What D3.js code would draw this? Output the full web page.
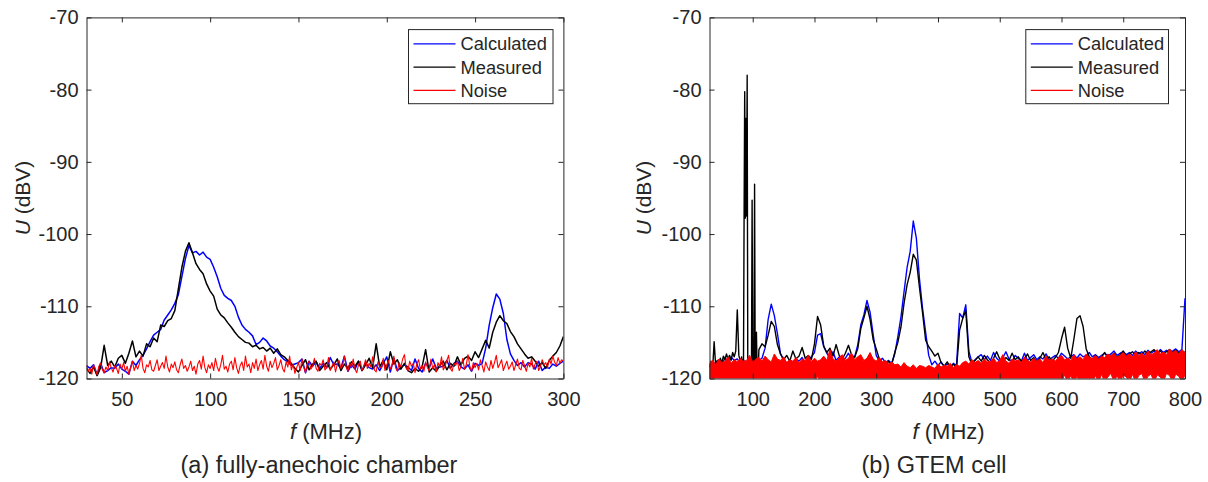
<!DOCTYPE html>
<html>
<head>
<meta charset="utf-8">
<script src="https://cdn.jsdelivr.net/npm/d3@7"></script>
<style>
  body { margin: 0; background: #fff; }
  svg text { font-family: "Liberation Sans", Arial, sans-serif; fill: #262626; }
</style>
</head>
<body>
<svg id="chart" width="1208" height="482"></svg>
<script>
// ---------- data (dBV) ----------
// (a) fully-anechoic chamber, noise every 1 MHz from 30 to 300
const anechoicNoiseFreq = d3.range(30, 301, 1);
const anechoicNoise = [
  -118.2,-119.0,-118.6,-119.4,-118.1,-118.7,-119.5,-118.3,-117.9,-118.8,
  -119.2,-118.4,-118.9,-117.7,-118.5,-119.1,-118.2,-118.6,-119.3,-118.0,
  -118.7,-117.8,-119.0,-118.3,-119.4,-118.5,-117.6,-118.9,-118.2,-118.7,
  -117.9,-116.8,-118.6,-119.2,-118.1,-118.4,-117.5,-118.8,-119.0,-118.2,
  -117.4,-118.9,-118.3,-117.8,-118.6,-116.9,-118.4,-119.1,-118.0,-118.5,
  -117.7,-118.8,-119.2,-118.1,-117.3,-118.6,-118.2,-119.0,-118.4,-117.6,
  -118.9,-118.3,-119.4,-118.0,-117.5,-118.7,-116.9,-118.5,-119.2,-118.1,
  -118.6,-117.8,-118.9,-117.2,-118.4,-119.0,-118.1,-116.8,-118.7,-118.3,
  -119.1,-118.0,-117.6,-118.8,-117.1,-118.5,-119.3,-118.2,-117.7,-118.9,
  -116.9,-118.4,-118.0,-119.2,-117.8,-118.6,-117.3,-118.9,-118.1,-117.5,
  -118.7,-116.8,-118.3,-119.0,-117.6,-118.5,-117.9,-117.1,-118.8,-118.2,
  -117.4,-118.6,-119.1,-117.7,-118.4,-116.9,-118.8,-118.0,-119.3,-118.5,
  -117.8,-118.9,-117.3,-118.4,-119.2,-118.0,-117.6,-118.7,-118.3,-117.2,
  -118.6,-119.0,-117.9,-118.2,-117.4,-118.8,-118.5,-117.1,-118.9,-118.3,
  -117.7,-119.1,-118.0,-117.5,-118.6,-118.2,-116.9,-118.4,-119.0,-117.8,
  -118.5,-117.3,-118.7,-119.2,-118.1,-117.6,-118.9,-118.3,-117.4,-118.6,
  -117.9,-118.4,-117.0,-118.8,-119.1,-117.7,-118.3,-118.6,-117.2,-118.9,
  -118.1,-117.5,-118.7,-118.2,-116.9,-118.5,-119.0,-117.8,-118.4,-117.3,
  -116.7,-118.6,-118.9,-117.6,-118.3,-117.9,-119.2,-118.0,-117.4,-118.7,
  -118.2,-119.0,-117.7,-118.5,-118.9,-117.3,-118.6,-118.1,-119.1,-117.8,
  -118.4,-117.0,-118.8,-118.3,-117.5,-116.8,-118.6,-119.0,-117.9,-118.2,
  -117.6,-118.9,-118.4,-117.2,-118.7,-118.1,-116.7,-118.3,-119.0,-117.8,
  -118.5,-117.9,-118.8,-117.4,-118.2,-119.1,-117.7,-118.4,-118.9,-117.5,
  -118.6,-117.8,-116.8,-118.5,-118.0,-117.4,-118.9,-118.2,-117.6,-118.7,
  -118.3,-117.7,-118.9,-118.1,-117.3,-118.6,-118.8,-117.5,-118.2,-119.0,
  -117.9,-118.4,-117.2,-118.7,-118.0,-117.6,-118.9,-118.3,-117.4,-118.1,
  -117.8,-118.5,-117.3,-118.0,-116.9,-117.7,-118.2,-117.1,-117.9,-117.4,
  -117.6
];

// calculated and measured every 2 MHz from 30 to 300
const anechoicFreq = d3.range(30, 301, 2);
const anechoicCalc = [
  -118.2,-118.6,-118.1,-119.5,-117.9,-119.2,-118.9,-118.5,-118.6,-118.0,
  -118.7,-119.0,-119.4,-117.6,-118.2,-117.4,-116.8,-115.9,-114.9,-114.0,
  -113.6,-113.2,-111.9,-111.2,-110.5,-109.6,-108.4,-105.9,-103.4,-101.6,
  -102.6,-102.4,-102.9,-102.5,-103.2,-103.5,-104.6,-105.9,-107.5,-108.5,
  -108.9,-109.2,-110.0,-111.5,-112.6,-113.2,-113.6,-114.1,-115.3,-115.0,
  -114.4,-114.8,-115.5,-115.8,-116.3,-116.9,-117.4,-117.7,-118.2,-118.0,
  -117.8,-117.3,-119.2,-117.6,-118.3,-117.7,-118.6,-117.9,-118.5,-117.1,
  -118.1,-118.0,-118.6,-116.9,-119.0,-118.1,-118.7,-117.6,-118.9,-117.8,
  -118.5,-118.7,-118.1,-118.9,-117.9,-117.0,-119.1,-117.2,-118.9,-118.5,
  -118.1,-118.4,-118.9,-117.3,-118.6,-119.1,-117.9,-118.5,-117.3,-118.6,
  -118.4,-118.3,-117.5,-118.6,-117.9,-117.6,-118.4,-118.7,-118.1,-119.0,
  -117.9,-118.2,-117.9,-115.8,-112.6,-110.2,-108.3,-109.0,-111.0,-114.6,
  -116.6,-117.5,-118.2,-117.8,-118.4,-117.8,-118.0,-118.7,-117.6,-118.9,
  -118.4,-118.6,-118.0,-118.3,-117.9,-117.6
];
const anechoicMeas = [
  -118.6,-119.3,-118.4,-119.6,-118.5,-115.4,-118.2,-117.6,-118.4,-117.2,
  -116.8,-117.9,-116.5,-114.8,-117.0,-116.2,-116.9,-115.2,-115.6,-114.4,
  -114.9,-112.6,-112.8,-112.0,-111.7,-110.6,-107.6,-104.6,-102.4,-101.2,
  -102.6,-104.1,-104.9,-105.5,-106.9,-107.9,-108.6,-110.4,-111.2,-111.6,
  -112.3,-112.9,-113.6,-114.2,-114.6,-115.0,-115.1,-115.6,-115.4,-115.9,
  -115.7,-116.2,-115.8,-116.5,-115.9,-116.7,-117.0,-117.5,-117.9,-118.6,
  -119.1,-118.2,-117.4,-118.8,-118.0,-117.6,-118.9,-118.3,-117.8,-118.7,
  -118.1,-117.3,-118.9,-118.0,-118.6,-117.7,-118.3,-117.6,-118.9,-118.1,
  -117.2,-118.5,-115.2,-118.4,-117.5,-118.8,-116.3,-118.0,-117.4,-118.7,
  -117.9,-118.9,-119.2,-118.6,-119.0,-118.4,-116.0,-119.1,-118.5,-119.0,
  -118.2,-117.6,-118.8,-117.9,-118.3,-117.0,-118.1,-117.2,-116.9,-117.5,
  -116.3,-117.1,-115.9,-114.7,-115.8,-113.6,-112.2,-111.3,-112.0,-112.4,
  -113.5,-114.2,-115.2,-115.9,-116.6,-117.2,-117.0,-117.6,-118.3,-117.8,
  -118.6,-117.5,-116.9,-116.4,-115.5,-114.2
];

// (b) GTEM cell
// calculated every 5 MHz from 30 to 800
const gtemCalcFreq = d3.range(30, 801, 5);
const gtemCalc = [
  -118.6,-118.0,-117.8,-117.4,-117.9,-117.2,-117.6,-117.0,-117.5,-117.3,
  -117.9,-117.4,-118.2,-117.6,-118.0,-117.8,-117.5,-117.2,-115.8,-111.8,
  -109.7,-111.3,-113.8,-116.6,-117.4,-117.9,-117.5,-118.0,-117.3,-117.6,
  -117.1,-117.8,-117.4,-117.0,-116.4,-114.0,-113.8,-115.6,-116.5,-117.2,
  -116.3,-117.5,-117.0,-117.6,-117.2,-116.5,-117.4,-117.0,-115.4,-112.6,
  -111.2,-109.2,-110.8,-113.9,-116.8,-117.6,-117.2,-117.8,-117.5,-117.9,
  -116.6,-114.2,-111.5,-108.0,-104.6,-102.4,-98.2,-100.6,-106.2,-110.3,
  -113.6,-116.8,-118.1,-117.6,-118.2,-117.7,-118.3,-118.0,-118.4,-117.9,
  -118.2,-111.0,-111.6,-109.8,-116.2,-117.8,-117.4,-117.0,-116.7,-117.4,
  -116.9,-117.5,-116.4,-117.2,-117.6,-117.1,-116.3,-117.3,-117.7,-116.8,
  -117.2,-117.6,-116.5,-117.5,-117.1,-116.7,-117.4,-117.0,-117.3,-116.6,
  -117.4,-117.1,-116.8,-117.2,-116.5,-116.9,-117.3,-117.0,-116.7,-117.2,
  -116.6,-117.0,-116.8,-116.4,-117.0,-116.7,-117.1,-116.8,-116.5,-116.9,
  -116.6,-116.2,-116.8,-116.5,-116.3,-116.7,-116.4,-116.8,-116.2,-116.6,
  -116.3,-116.7,-116.1,-116.5,-116.2,-116.6,-116.0,-116.4,-116.1,-116.5,
  -116.2,-115.9,-116.3,-116.0,-108.9
];

// measured: 2.5 MHz steps up to 80, 1 MHz steps through the strong lines, then 5 MHz
const gtemMeasFreq = d3.range(30, 80, 2.5).concat(d3.range(80, 110, 1), d3.range(110, 801, 5));
const gtemMeas = [
  -118.4,-117.6,-118.8,-114.9,-118.2,-117.5,-118.0,-117.2,-117.8,-116.9,
  -117.4,-116.6,-117.3,-116.8,-117.5,-116.4,-117.0,-116.2,-110.5,-116.8,
  -117.6,-118.3,-117.0,-118.6,-117.4,-118.9,-98.0,-80.3,-97.8,-84.0,
  -97.5,-78.0,-118.5,-119.2,-118.0,-119.4,-118.3,-119.0,-117.8,-95.3,
  -118.6,-119.2,-117.9,-93.1,-118.8,-116.5,-113.6,-118.4,-117.3,-118.6,
  -116.0,-115.2,-115.6,-114.0,-112.1,-112.8,-115.3,-116.6,-117.4,-116.8,
  -117.6,-116.2,-117.3,-116.9,-115.7,-117.2,-116.8,-117.4,-115.2,-111.4,
  -112.6,-115.5,-116.4,-115.8,-116.9,-115.3,-116.8,-117.3,-116.5,-115.4,
  -116.7,-117.1,-115.9,-113.1,-111.6,-110.0,-111.8,-114.6,-115.9,-117.3,
  -117.8,-118.4,-117.6,-118.1,-116.4,-115.0,-112.9,-109.6,-107.0,-105.3,
  -102.8,-103.6,-107.4,-110.9,-114.7,-115.6,-116.2,-116.9,-116.5,-117.8,
  -118.3,-117.7,-118.5,-118.0,-118.6,-113.3,-111.7,-110.6,-117.0,-118.1,
  -117.5,-117.0,-117.6,-116.8,-117.4,-117.9,-117.2,-116.3,-117.3,-117.7,
  -117.1,-117.5,-116.5,-117.4,-117.0,-117.6,-117.3,-116.6,-117.5,-117.1,
  -117.7,-117.2,-116.4,-117.4,-117.0,-117.6,-117.1,-116.4,-114.5,-112.9,
  -115.8,-117.2,-114.6,-111.7,-111.3,-112.8,-115.9,-117.0,-117.4,-116.8,
  -117.3,-117.0,-116.4,-117.2,-116.9,-116.5,-117.1,-116.7,-116.2,-116.9,
  -116.6,-116.3,-116.8,-116.4,-116.7,-116.2,-116.6,-116.3,-116.0,-116.5,
  -116.2,-116.6,-116.3,-116.0,-116.4,-116.1,-116.5,-116.2,-116.4
];

// noise: upper and lower envelope of the dense trace, per 5 MHz
const gtemNoiseFreq = d3.range(30, 801, 5);
const gtemNoiseTop = [
  -117.9,-117.5,-118.1,-117.3,-117.8,-117.6,-117.0,-117.9,-117.4,-117.7,
  -117.2,-117.6,-117.5,-116.8,-117.7,-117.3,-117.1,-117.6,-116.9,-117.4,
  -117.7,-116.6,-117.3,-117.5,-117.0,-117.8,-117.4,-117.6,-117.1,-117.9,
  -117.3,-117.5,-116.8,-117.7,-117.2,-117.6,-117.4,-116.9,-117.5,-116.0,
  -117.3,-117.6,-117.1,-116.7,-117.5,-117.2,-116.5,-117.4,-117.0,-116.7,
  -117.5,-117.2,-116.4,-117.3,-117.6,-117.1,-117.7,-117.5,-118.0,-117.7,
  -118.1,-118.0,-118.4,-117.8,-118.3,-118.5,-118.1,-118.6,-118.2,-118.3,
  -118.5,-118.2,-118.4,-118.6,-118.0,-118.4,-118.2,-118.3,-117.9,-118.5,
  -118.1,-118.3,-117.8,-117.6,-118.0,-117.4,-117.8,-117.5,-117.9,-117.3,
  -117.7,-117.6,-117.2,-117.8,-117.5,-116.7,-117.6,-117.9,-117.3,-117.6,
  -117.4,-117.8,-117.0,-117.5,-117.7,-117.2,-117.6,-117.3,-117.8,-116.9,
  -117.5,-117.3,-117.6,-117.1,-116.8,-117.4,-117.2,-117.5,-116.7,-117.3,
  -117.0,-117.4,-116.6,-117.1,-117.2,-116.8,-117.3,-116.9,-117.1,-116.6,
  -116.9,-116.5,-117.1,-116.8,-116.4,-116.9,-116.6,-117.0,-116.3,-116.8,
  -116.5,-116.9,-116.2,-116.7,-116.5,-116.0,-116.6,-116.3,-116.7,-115.9,
  -116.4,-116.1,-116.6,-116.0,-116.4
];
const gtemNoiseBottom = [
  -120.5,-120.5,-120.5,-120.5,-120.5,-120.5,-120.5,-120.5,-120.5,-120.5,
  -120.5,-120.5,-120.5,-120.5,-120.5,-120.5,-120.5,-120.5,-120.5,-120.5,
  -120.5,-120.5,-120.5,-120.5,-120.5,-120.5,-120.5,-120.5,-120.5,-120.5,
  -120.5,-120.5,-120.5,-120.5,-120.5,-119.7,-120.5,-120.5,-120.5,-120.5,
  -120.5,-120.5,-120.5,-120.5,-120.5,-120.5,-120.5,-120.5,-120.5,-120.5,
  -120.5,-120.5,-120.5,-120.5,-120.5,-120.5,-120.5,-120.5,-120.5,-120.5,
  -120.5,-120.5,-120.5,-120.5,-120.5,-120.5,-120.5,-120.5,-120.5,-120.5,
  -120.5,-120.5,-120.5,-120.5,-120.5,-120.5,-120.5,-120.5,-120.5,-120.5,
  -120.5,-120.5,-120.5,-120.5,-120.5,-120.5,-120.5,-120.5,-120.5,-120.5,
  -120.5,-120.5,-120.5,-120.5,-120.5,-120.5,-120.5,-120.5,-120.5,-120.5,
  -120.5,-120.5,-120.5,-120.5,-120.5,-120.5,-120.5,-120.5,-120.5,-120.5,
  -120.5,-120.5,-120.5,-120.5,-120.5,-119.5,-120.5,-119.6,-120.5,-119.7,
  -120.5,-120.5,-120.5,-120.5,-120.5,-119.6,-120.5,-119.4,-120.5,-119.8,
  -119.3,-120.5,-119.6,-120.5,-119.5,-119.8,-120.5,-119.4,-120.5,-119.6,
  -119.3,-120.5,-119.7,-119.4,-120.5,-119.5,-119.8,-120.5,-119.3,-119.6,
  -120.5,-119.4,-119.7,-120.5,-119.5
];

const yTicks = [-120, -110, -100, -90, -80, -70];
const anechoicTicks = [50, 100, 150, 200, 250, 300];
const gtemTicks = [100, 200, 300, 400, 500, 600, 700, 800];
const legendNames = ["Calculated", "Measured", "Noise"];
const legendColors = ["#0000ff", "#000000", "#ff0000"];

// ---------- drawing ----------
const svg = d3.select("#chart");
const plotTop = 17.4, plotBottom = 378.5;

function panel(opt) {
  const x = d3.scaleLinear().domain(opt.xDomain).range([opt.left, opt.right]);
  const y = d3.scaleLinear().domain([-120, -70]).range([plotBottom, plotTop]);
  const g = svg.append("g");

  g.append("rect").attr("x", opt.left).attr("y", plotTop)
    .attr("width", opt.right - opt.left).attr("height", plotBottom - plotTop).attr("fill", "#fff");

  const clipId = "clip" + opt.id;
  svg.append("clipPath").attr("id", clipId).append("rect")
    .attr("x", opt.left).attr("y", plotTop)
    .attr("width", opt.right - opt.left).attr("height", plotBottom - plotTop);

  const plot = g.append("g").attr("clip-path", "url(#" + clipId + ")");
  opt.draw(plot, x, y);

  // axes: ticks pointing inward, on all four sides
  const tickFmt = d => d3.format("d")(d).replace("\u2212", "-");
  const axB = g.append("g").attr("transform", `translate(0,${plotBottom})`)
    .call(d3.axisBottom(x).tickValues(opt.xTicks).tickSizeInner(-5).tickSizeOuter(0).tickPadding(13).tickFormat(tickFmt));
  const axT = g.append("g").attr("transform", `translate(0,${plotTop})`)
    .call(d3.axisTop(x).tickValues(opt.xTicks).tickSizeInner(-5).tickSizeOuter(0).tickFormat(""));
  const axL = g.append("g").attr("transform", `translate(${opt.left},0)`)
    .call(d3.axisLeft(y).tickValues(yTicks).tickSizeInner(-5).tickSizeOuter(0).tickPadding(8).tickFormat(tickFmt));
  const axR = g.append("g").attr("transform", `translate(${opt.right},0)`)
    .call(d3.axisRight(y).tickValues(yTicks).tickSizeInner(-5).tickSizeOuter(0).tickFormat(""));
  [axB, axT, axL, axR].forEach(a => {
    a.select(".domain").attr("stroke", "#262626").attr("stroke-width", 1);
    a.selectAll(".tick line").attr("stroke", "#262626");
    a.selectAll("text").attr("font-size", 20).attr("fill", "#262626")
      .attr("font-family", "'Liberation Sans', Arial, sans-serif");
  });

  // y label
  const yl = g.append("text").attr("transform", `translate(${opt.yLabelX},198) rotate(-90)`)
    .attr("text-anchor", "middle").attr("font-size", 21);
  yl.append("tspan").attr("font-style", "italic").text("U");
  yl.append("tspan").text(" (dBV)");

  // x label
  const xl = g.append("text").attr("x", opt.xLabelX).attr("y", 438.5)
    .attr("text-anchor", "middle").attr("font-size", 22);
  xl.append("tspan").attr("font-style", "italic").text("f");
  xl.append("tspan").text(" (MHz)");

  // caption
  g.append("text").attr("x", opt.captionX).attr("y", 473)
    .attr("text-anchor", "middle").attr("font-size", 23.5).text(opt.caption);

  // legend
  const lg = g.append("g");
  lg.append("rect").attr("x", opt.legendX).attr("y", 29.6)
    .attr("width", opt.legendW).attr("height", 74.1)
    .attr("fill", "#fff").attr("stroke", "#262626").attr("stroke-width", 1);
  legendNames.forEach((name, i) => {
    const ly = 43.9 + i * 23.2;
    lg.append("line").attr("x1", opt.legendX + 5).attr("x2", opt.legendX + 47)
      .attr("y1", ly).attr("y2", ly).attr("stroke", legendColors[i]).attr("stroke-width", 1.3);
    lg.append("text").attr("x", opt.legendX + 52).attr("y", ly).attr("dy", "0.35em")
      .attr("font-size", 18.3).attr("fill", "#000").text(name);
  });
}

function trace(plot, x, y, xs, ys, color, width) {
  const line = d3.line().x((d, i) => x(xs[i])).y(d => y(d));
  plot.append("path").datum(ys).attr("d", line)
    .attr("fill", "none").attr("stroke", color).attr("stroke-width", width)
    .attr("stroke-linejoin", "round");
}

panel({
  id: "a", left: 86.5, right: 563.4, xDomain: [30, 300], xTicks: anechoicTicks,
  yLabelX: 30, xLabelX: 326, captionX: 319, caption: "(a) fully-anechoic chamber",
  legendX: 408.5, legendW: 144.5,
  draw: (plot, x, y) => {
    trace(plot, x, y, anechoicFreq, anechoicCalc, "#0000ff", 1.5);
    trace(plot, x, y, anechoicFreq, anechoicMeas, "#000000", 1.5);
    trace(plot, x, y, anechoicNoiseFreq, anechoicNoise, "#ff0000", 1.1);
  }
});

panel({
  id: "b", left: 709.5, right: 1185, xDomain: [30, 800], xTicks: gtemTicks,
  yLabelX: 651, xLabelX: 948.6, captionX: 934, caption: "(b) GTEM cell",
  legendX: 1025.8, legendW: 142.7,
  draw: (plot, x, y) => {
    trace(plot, x, y, gtemCalcFreq, gtemCalc, "#0000ff", 1.4);
    trace(plot, x, y, gtemMeasFreq, gtemMeas, "#000000", 1.4);
    const area = d3.area()
      .x((d, i) => x(gtemNoiseFreq[i]))
      .y0((d, i) => y(gtemNoiseBottom[i]))
      .y1(d => y(d));
    plot.append("path").datum(gtemNoiseTop).attr("d", area)
      .attr("fill", "#ff0000").attr("stroke", "#ff0000").attr("stroke-width", 1);
  }
});
</script>
</body>
</html>
